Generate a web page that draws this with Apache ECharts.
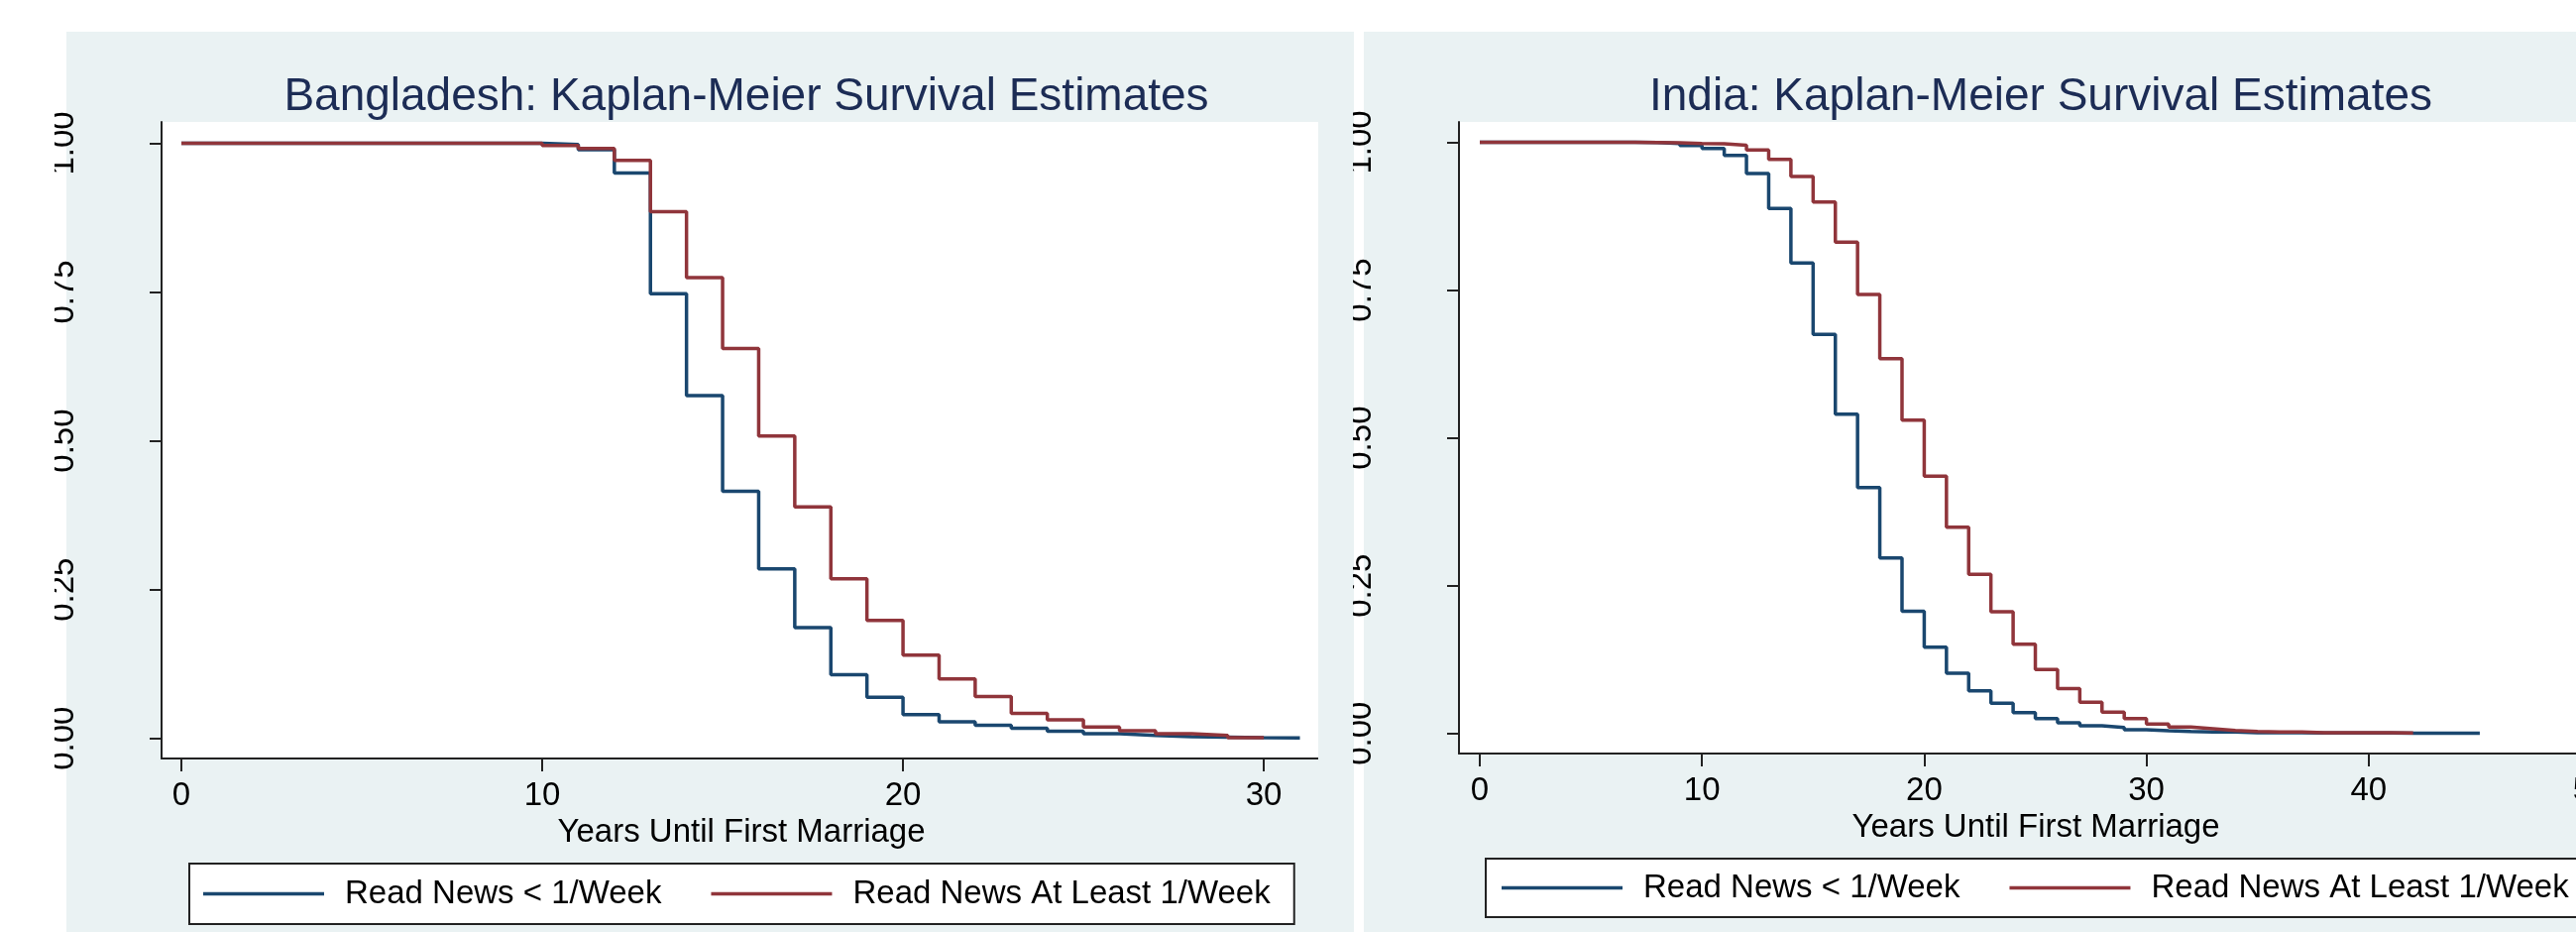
<!DOCTYPE html>
<html>
<head>
<meta charset="utf-8">
<script src="https://cdn.jsdelivr.net/npm/echarts@6/dist/echarts.min.js"></script>
<style>
html,body{margin:0;padding:0;background:#fff;overflow:hidden;width:2599px;height:940px;}
#chart{width:2660px;height:940px;}
</style>
</head>
<body>
<div id="chart"></div>
<script>
// ---------------- data ----------------
const seriesNames = ['Read News < 1/Week', 'Read News At Least 1/Week'];
const panelTitles = ['Bangladesh: Kaplan-Meier Survival Estimates', 'India: Kaplan-Meier Survival Estimates'];
const xAxisTitle = 'Years Until First Marriage';

const bangladeshYears = [0,1,2,3,4,5,6,7,8,9,10,11,12,13,14,15,16,17,18,19,20,21,22,23,24,25,26,27,28,29,30,31];
const bangladeshLow = [1,1,1,1,1,1,1,1,1,1,
  0.998,0.989,0.950,0.747,0.576,0.415,0.285,0.186,0.107,0.069,
  0.040,0.028,0.022,0.017,0.012,0.008,0.005,0.003,0.002,0.001,
  0.0007,0.0007];
const bangladeshHigh = [1,1,1,1,1,1,1,1,1,1,
  0.996,0.991,0.971,0.885,0.774,0.655,0.508,0.389,0.268,0.198,
  0.140,0.100,0.0705,0.042,0.031,0.019,0.013,0.008,0.005,0.001,
  0.001];

const indiaYears = [0,1,2,3,4,5,6,7,8,9,10,11,12,13,14,15,16,17,18,19,20,21,22,23,24,25,26,27,28,29,30,31,32,33,34,35,36,37,38,39,40,41,42,43,44,45];
const indiaLow = [1,1,1,1,1,1,1,0.9995,0.998,0.9945,
  0.9895,0.978,0.947,0.888,0.796,0.675,0.540,0.416,0.297,0.2065,
  0.146,0.102,0.072,0.051,0.035,0.025,0.018,0.013,0.010,0.0062,
  0.0047,0.0034,0.0023,0.0023,0.0012,0.0012,0.0012,0.0006,0.0006,0.0006,
  0.0006,0.0002,0.0002,0.0002,0.0002,0.0002];
const indiaHigh = [1,1,1,1,1,1,1,0.9995,0.999,0.998,
  0.9975,0.995,0.987,0.971,0.942,0.899,0.831,0.7425,0.634,0.530,
  0.435,0.349,0.269,0.206,0.151,0.108,0.076,0.053,0.036,0.025,
  0.016,0.0107,0.0079,0.005,0.0034,0.0023,0.0023,0.0012,0.0012,0.0012,
  0.0012,0.0006,0.0006];

const yTicks = [0, 0.25, 0.5, 0.75, 1];
const xTicksBangladesh = [0, 10, 20, 30];
const xTicksIndia = [0, 10, 20, 30, 40, 50];

// ---------------- styles ----------------
const FONT = '"Liberation Sans", Arial, sans-serif';
const BG = '#EAF2F3';
const NAVY = '#1A476F';
const MAROON = '#90353B';
const AXIS = '#222222';
const TITLE = '#1C2C55';

function pairs(xs, ys) { return ys.map((v, i) => [xs[i], v]); }

function xAxisDef(gridIndex, min, max, ticks) {
  return {
    type: 'value', gridIndex, min, max,
    name: xAxisTitle, nameLocation: 'middle', nameGap: 50,
    nameTextStyle: { fontFamily: FONT, fontSize: 33, color: '#000', verticalAlign: 'top' },
    axisLine: { show: true, onZero: false, lineStyle: { color: AXIS, width: 2 } },
    axisTick: { show: true, customValues: ticks, length: 13, lineStyle: { color: AXIS, width: 2 } },
    axisLabel: { show: true, customValues: ticks, margin: 21, fontFamily: FONT, fontSize: 33, color: '#000' },
    splitLine: { show: false }
  };
}
function yAxisDef(gridIndex, min, max) {
  return {
    type: 'value', gridIndex, min, max,
    axisLine: { show: true, onZero: false, lineStyle: { color: AXIS, width: 2 } },
    axisTick: { show: true, customValues: yTicks, length: 12, lineStyle: { color: AXIS, width: 2 } },
    axisLabel: { show: true, customValues: yTicks, rotate: 90, margin: 82, fontFamily: FONT, fontSize: 33, color: '#000',
      formatter: v => v.toFixed(2) },
    splitLine: { show: false }
  };
}
function lineSeries(name, idx, data, color) {
  return {
    type: 'line', name, xAxisIndex: idx, yAxisIndex: idx, step: 'end',
    showSymbol: false, symbol: 'none', data, animation: false,
    lineStyle: { color, width: 3.5 }, itemStyle: { color }
  };
}
function legendDef(left, top, padding) {
  return {
    data: seriesNames, left, top, orient: 'horizontal', width: 1200,
    icon: 'rect', itemWidth: 122, itemHeight: 3.5, itemGap: 50,
    padding, backgroundColor: '#fff', borderColor: AXIS, borderWidth: 2, borderRadius: 0,
    textStyle: { fontFamily: FONT, fontSize: 33, color: '#000', padding: [0, 0, 0, 16] },
    selectedMode: false
  };
}

const chart = echarts.init(document.getElementById('chart'), null, { renderer: 'canvas' });
chart.setOption({
  animation: false,
  backgroundColor: '#fff',
  graphic: [
    { type: 'rect', shape: { x: 67, y: 32, width: 1299, height: 908 }, style: { fill: BG }, z: -10, silent: true },
    { type: 'rect', shape: { x: 1376, y: 32, width: 1300, height: 908 }, style: { fill: BG }, z: -10, silent: true },
    { type: 'rect', shape: { x: 0, y: 95, width: 55, height: 700 }, style: { fill: '#fff' }, z: 100, silent: true },
    { type: 'rect', shape: { x: 1330, y: 95, width: 35, height: 700 }, style: { fill: BG }, z: 100, silent: true }
  ],
  title: [
    { text: panelTitles[0], left: 748, top: 70, textAlign: 'center',
      textStyle: { fontFamily: FONT, fontSize: 46, fontWeight: 'normal', color: TITLE } },
    { text: panelTitles[1], left: 2054, top: 70, textAlign: 'center',
      textStyle: { fontFamily: FONT, fontSize: 46, fontWeight: 'normal', color: TITLE } }
  ],
  legend: [
    legendDef(191, 871, [14, 24, 14, 14]),
    legendDef(1499, 866, [13, 24, 13, 16])
  ],
  grid: [
    { left: 163, top: 123, width: 1170, height: 642, show: true, backgroundColor: '#fff', borderWidth: 0 },
    { left: 1472, top: 123, width: 1164, height: 637, show: true, backgroundColor: '#fff', borderWidth: 0 }
  ],
  xAxis: [
    xAxisDef(0, -0.549, 31.59, xTicksBangladesh),
    xAxisDef(1, -0.937, 50.98, xTicksIndia)
  ],
  yAxis: [
    yAxisDef(0, -0.0338, 1.0357),
    yAxisDef(1, -0.034, 1.0344)
  ],
  series: [
    lineSeries(seriesNames[0], 0, pairs(bangladeshYears, bangladeshLow), NAVY),
    lineSeries(seriesNames[1], 0, pairs(bangladeshYears, bangladeshHigh), MAROON),
    lineSeries(seriesNames[0], 1, pairs(indiaYears, indiaLow), NAVY),
    lineSeries(seriesNames[1], 1, pairs(indiaYears, indiaHigh), MAROON)
  ]
});
</script>
</body>
</html>
